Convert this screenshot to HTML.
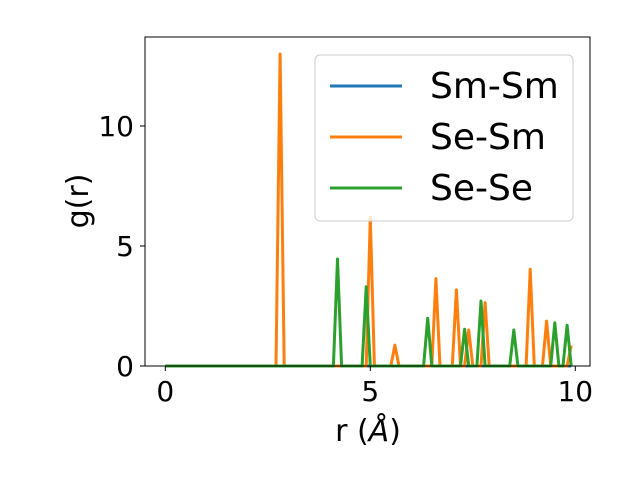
<!DOCTYPE html>
<html><head><meta charset="utf-8"><style>
html,body{margin:0;padding:0;background:#fff;}
svg{display:block;font-family:"DejaVu Sans","Liberation Sans",sans-serif;}
</style></head><body>
<svg id="chart" width="640" height="480">
<rect width="640" height="480" fill="#fff"/>
<g id="lines"></g>
<rect x="145" y="37" width="445" height="329" fill="none" stroke="#000" stroke-width="1"/>
<g id="ticks"></g>
<text x="368" y="441" font-size="30" text-anchor="middle">r (<tspan font-style="italic">Å</tspan>)</text>
<text transform="translate(88,201) rotate(-90)" font-size="30" text-anchor="middle">g(r)</text>
<g>
<rect x="315" y="55" width="258" height="166" rx="5" fill="#fff" fill-opacity="0.8" stroke="#ccc" stroke-width="1"/>
<line x1="330" y1="86" x2="402" y2="86" stroke="#1f77b4" stroke-width="3"/>
<text x="430" y="98" font-size="36">Sm-Sm</text>
<line x1="330" y1="137" x2="402" y2="137" stroke="#ff7f0e" stroke-width="3"/>
<text x="430" y="149" font-size="36">Se-Sm</text>
<line x1="330" y1="188" x2="402" y2="188" stroke="#2ca02c" stroke-width="3"/>
<text x="430" y="200" font-size="36">Se-Se</text>
</g>
</svg>
<script>
const rValues = Array.from({length:100},(_,i)=>i/10);
const smsmPeakR = [];
const smsmPeakG = [];
const sesmPeakR = [2.8, 5.0, 5.6, 6.6, 7.1, 7.4, 7.8, 8.9, 9.3, 9.9];
const sesmPeakG = [13.0, 6.2, 0.87, 3.64, 3.17, 1.5, 2.64, 4.03, 1.87, 0.85];
const seseePeakR = [4.2, 4.9, 6.4, 7.3, 7.7, 8.5, 9.5, 9.8];
const seseePeakG = [4.46, 3.3, 1.99, 1.53, 2.71, 1.5, 1.8, 1.7];
const xTicks = [0, 5, 10];
const yTicks = [0, 5, 10];

const xs = v => 165.3 + v * 41;
const ys = v => 366 - v * 24;
function series(pr, pg){
  return rValues.map(r=>{const k=pr.findIndex(p=>Math.abs(p-r)<1e-6);return k>=0?pg[k]:0;});
}
const NS="http://www.w3.org/2000/svg";
const lines=document.getElementById('lines');
[[smsmPeakR,smsmPeakG,'#1f77b4','line-sm-sm'],[sesmPeakR,sesmPeakG,'#ff7f0e','line-se-sm'],[seseePeakR,seseePeakG,'#2ca02c','line-se-se']].forEach(s=>{
  const g=series(s[0],s[1]);
  const p=document.createElementNS(NS,'polyline');
  p.setAttribute('points',rValues.map((r,i)=>xs(r)+','+ys(g[i])).join(' '));
  p.setAttribute('fill','none');p.setAttribute('stroke',s[2]);p.setAttribute('stroke-width','3');
  p.setAttribute('stroke-linejoin','round');
  
  
  lines.appendChild(p);
});
const tk=document.getElementById('ticks');
xTicks.forEach(t=>{
  const l=document.createElementNS(NS,'line');
  l.setAttribute('x1',xs(t));l.setAttribute('x2',xs(t));l.setAttribute('y1',366);l.setAttribute('y2',371);l.setAttribute('stroke','#000');
  
  
  tk.appendChild(l);
  const tx=document.createElementNS(NS,'text');
  tx.setAttribute('x',xs(t));tx.setAttribute('y',401);tx.setAttribute('font-size','28');tx.setAttribute('text-anchor','middle');
  tx.textContent=t;
  
  
  tk.appendChild(tx);
});
yTicks.forEach(t=>{
  const l=document.createElementNS(NS,'line');
  l.setAttribute('x1',140);l.setAttribute('x2',145);l.setAttribute('y1',ys(t));l.setAttribute('y2',ys(t));l.setAttribute('stroke','#000');
  
  
  tk.appendChild(l);
  const tx=document.createElementNS(NS,'text');
  tx.setAttribute('x',134);tx.setAttribute('y',ys(t)+10);tx.setAttribute('font-size','28');tx.setAttribute('text-anchor','end');
  tx.textContent=t;
  
  
  tk.appendChild(tx);
});
</script>
</body></html>
